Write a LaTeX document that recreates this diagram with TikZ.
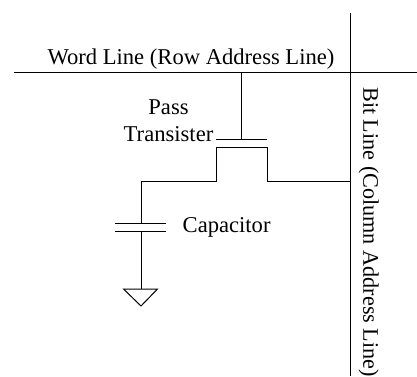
\documentclass[tikz,border=0pt]{standalone}
\usepackage{fontspec}
\setmainfont{Liberation Serif}
\tikzset{
  wire/.style={draw=black,line width=1pt},
  lbl/.style={inner sep=0pt,font=\fontsize{22.6}{26}\selectfont,text=black},
  bitlbl/.style={inner sep=0pt,font=\fontsize{22.2}{26}\selectfont,text=black},
}
\begin{document}
\begin{tikzpicture}[x=1pt,y=-1pt]
\useasboundingbox (0,0) rectangle (417,376);
\clip (0,0) rectangle (417,376);
\coordinate (wl) at (14,72);
\coordinate (wr) at (417,72);
\coordinate (bt) at (350.5,13);
\coordinate (bb) at (350.5,376);
\coordinate (wg) at (241.5,72);
\coordinate (gg) at (241.5,139);
\coordinate (gl) at (216,139);
\coordinate (gr) at (267,139);
\coordinate (cl) at (216,147.5);
\coordinate (cr) at (267,147.5);
\coordinate (bj) at (350.5,181);
\coordinate (cj) at (141,181);
\coordinate (p1) at (141,223);
\coordinate (p1l) at (115,223);
\coordinate (p1r) at (166,223);
\coordinate (p2) at (141,231);
\coordinate (p2l) at (115,231);
\coordinate (p2r) at (166,231);
\coordinate (g0) at (141,289);
\coordinate (gnl) at (123.5,289);
\coordinate (gnr) at (157.5,289);
\coordinate (gna) at (141,306);
\draw[wire] (wl) -- (wr);
\draw[wire] (bt) -- (bb);
\draw[wire] (wg) -- (gg);
\draw[wire] (gl) -- (gr);
\draw[wire] (bj) -| (cr) -- (cl) |- (cj) -- (p1);
\draw[wire] (p1l) -- (p1r);
\draw[wire] (p2l) -- (p2r);
\draw[wire] (p2) -- (g0);
\draw[wire,line join=miter] (gnl) -- (gnr) -- (gna) -- cycle;
\node[lbl,anchor=base] (word) at (191,64.5) {Word Line (Row Address Line)};
\node[lbl,anchor=base] (pass) at (168.5,114) {Pass};
\node[lbl,anchor=base east] (trans) at (213.5,141) {Transister};
\node[lbl,anchor=base west] (cap) at (182.5,232) {Capacitor};
\node[bitlbl,anchor=base west,rotate=-90] (bit) at (363.3,87) {Bit Line (Column Address Line)};
\end{tikzpicture}
\end{document}
